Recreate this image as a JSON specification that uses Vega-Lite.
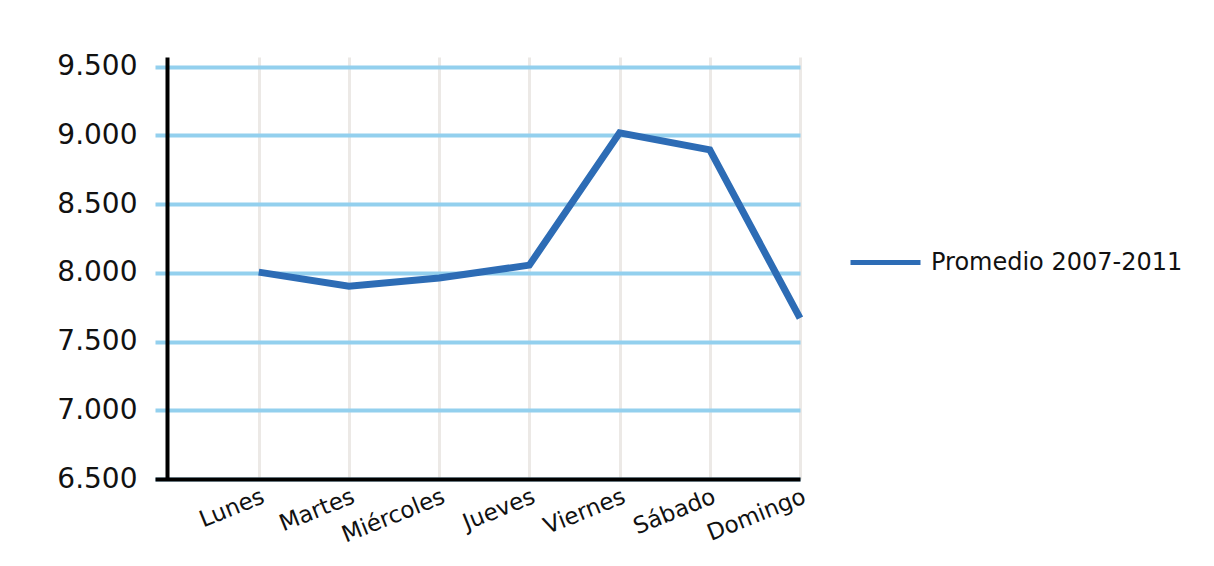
{
  "$schema": "https://vega.github.io/schema/vega-lite/v6.json",
  "width": 645,
  "height": 422,
  "autosize": {"type": "none"},
  "padding": {"left": 155, "top": 57, "right": 414, "bottom": 87},
  "background": "white",
  "config": {"view": {"stroke": null}, "font": "DejaVu Sans"},
  "data": {
    "values": [
      {"dia": "Lunes", "valor": 8005, "serie": "Promedio 2007-2011"},
      {"dia": "Martes", "valor": 7903, "serie": "Promedio 2007-2011"},
      {"dia": "Miércoles", "valor": 7962, "serie": "Promedio 2007-2011"},
      {"dia": "Jueves", "valor": 8056, "serie": "Promedio 2007-2011"},
      {"dia": "Viernes", "valor": 9018, "serie": "Promedio 2007-2011"},
      {"dia": "Sábado", "valor": 8894, "serie": "Promedio 2007-2011"},
      {"dia": "Domingo", "valor": 7670, "serie": "Promedio 2007-2011"}
    ]
  },
  "mark": {"type": "line", "strokeWidth": 7, "strokeJoin": "miter"},
  "encoding": {
    "x": {
      "field": "dia",
      "type": "nominal",
      "sort": null,
      "scale": {"type": "point", "padding": 0.575, "align": 1},
      "axis": {
        "title": null,
        "domainColor": "black",
        "domainWidth": 4,
        "ticks": false,
        "tickSize": 0,
        "grid": true,
        "gridColor": "#ece9e6",
        "gridWidth": 3,
        "labelAngle": -22,
        "labelFontSize": 23,
        "labelColor": "#111111",
        "labelPadding": 6
      }
    },
    "y": {
      "field": "valor",
      "type": "quantitative",
      "scale": {"domain": [6500, 9570], "nice": false, "zero": false},
      "axis": {
        "title": null,
        "offset": -12,
        "values": [6500, 7000, 7500, 8000, 8500, 9000, 9500],
        "labelExpr": "replace(format(datum.value, ','), ',', '.')",
        "domainColor": "black",
        "domainWidth": 4,
        "ticks": false,
        "tickSize": 0,
        "grid": true,
        "gridColor": "#93d0ee",
        "gridWidth": 4,
        "labelFontSize": 28,
        "labelColor": "#111111",
        "labelPadding": 30
      }
    },
    "color": {
      "field": "serie",
      "type": "nominal",
      "scale": {"range": ["#2d6cb5"]},
      "legend": {
        "title": null,
        "orient": "none",
        "legendX": 693,
        "legendY": 168,
        "padding": 0,
        "symbolType": "stroke",
        "symbolSize": 4900,
        "symbolStrokeWidth": 5,
        "labelFontSize": 24,
        "labelLimit": 400,
        "labelColor": "#111111",
        "labelOffset": 8
      }
    }
  }
}
